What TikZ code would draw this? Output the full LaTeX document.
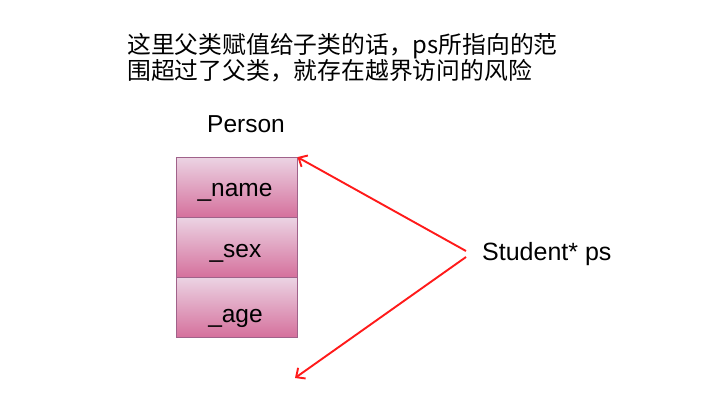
\documentclass[tikz,border=0pt]{standalone}
\usepackage{fontspec}
\setmainfont{Liberation Sans}
\newfontfamily\cjk{Noto Sans CJK SC}
\usetikzlibrary{arrows.meta}
\definecolor{boxtop}{HTML}{EBD3E3}
\definecolor{boxbot}{HTML}{D5709C}
\definecolor{boxline}{HTML}{A0628A}
\definecolor{arrowred}{HTML}{FF1A1A}
\begin{document}
\begin{tikzpicture}[x=1pt,y=-1pt,
  field/.style={draw=boxline, line width=0.8pt, top color=boxtop, bottom color=boxbot,
    minimum width=121pt, minimum height=60pt, inner sep=0pt},
  lbl/.style={inner sep=0pt, anchor=base, font=\fontsize{24.5}{28}\selectfont},
  ptr/.style={draw=arrowred, line width=1.9pt, -{Straight Barb[length=7pt,width=13pt]}}]
\useasboundingbox[fill=white] (0,0) rectangle (709,405);
\node[anchor=north west, inner sep=0pt, align=left, font=\cjk\fontsize{23.8}{23.5}\selectfont] (title) at (127,33)
  {这里父类赋值给子类的话，ps所指向的范\\围超过了父类，就存在越界访问的风险};
\node[field] (name) at (236.5,187.5) {};
\node[field] (sex) at (236.5,247.5) {};
\node[field] (age) at (236.5,307.5) {};
\node[lbl] (nameT) at (235,196) {\_name};
\node[lbl] (sexT) at (235.5,257) {\_sex};
\node[lbl] (ageT) at (235.5,322) {\_age};
\node[lbl] (person) at (246,132) {Person};
\node[lbl, anchor=base west, font=\fontsize{25}{28}\selectfont] (student) at (482,260) {Student* ps};
\coordinate (s1) at (466,251);
\coordinate (s2) at (466,257);
\coordinate (beyond) at (295,378);
\draw[ptr] (s1) -- (name.north east);
\draw[ptr] (s2) -- (beyond);
\end{tikzpicture}
\end{document}
